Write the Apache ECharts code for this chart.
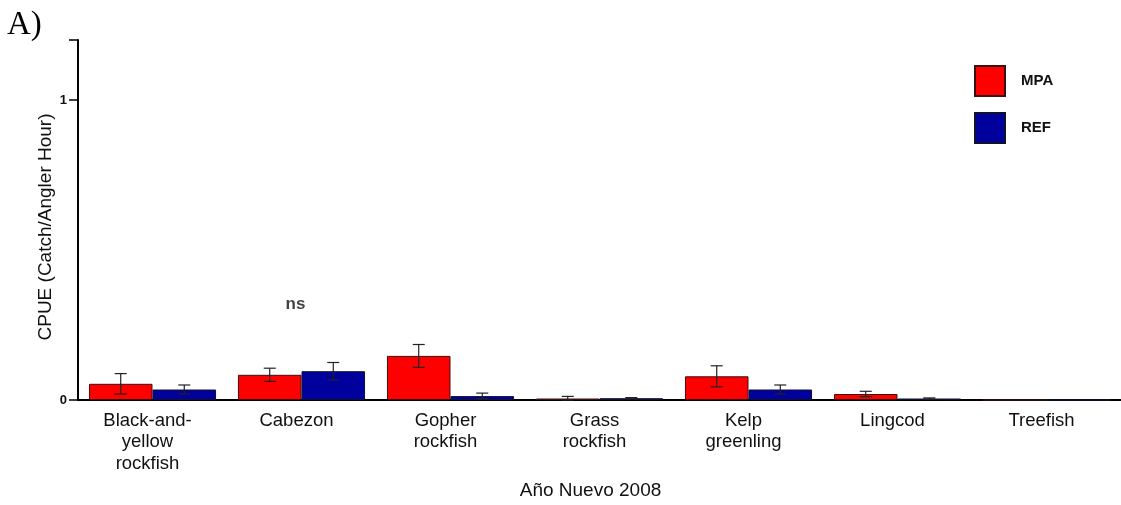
<!DOCTYPE html>
<html>
<head>
<meta charset="utf-8">
<script src="https://cdn.jsdelivr.net/npm/echarts@6/dist/echarts.min.js"></script>
<style>html,body{margin:0;padding:0;background:#fff;overflow:hidden;}#chart{width:1121px;height:505px;}</style>
</head>
<body>
<div id="chart"></div>
<script>
const categories = ['Black-and-\nyellow\nrockfish', 'Cabezon', 'Gopher\nrockfish', 'Grass\nrockfish', 'Kelp\ngreenling', 'Lingcod', 'Treefish'];
const mpaValues = [0.054, 0.084, 0.147, 0.005, 0.079, 0.020, 0];
const mpaSE     = [0.034, 0.022, 0.038, 0.007, 0.035, 0.009, 0];
const refValues = [0.035, 0.096, 0.013, 0.006, 0.035, 0.005, 0];
const refSE     = [0.015, 0.029, 0.010, 0.002, 0.015, 0.002, 0];
const yTickLabels = [0, 1];
const annotation = { category: 1, value: 0.318, text: 'ns' };

const FONT = "'Liberation Sans', Arial, sans-serif";
const CAT_GAP = 0.147;

function errorSeries(values, ses, side) {
  return {
    type: 'custom',
    silent: true,
    z: 5,
    data: values.map((v, i) => [i, v, ses[i]]),
    encode: { x: 0, y: 1 },
    renderItem: function (params, api) {
      const idx = api.value(0), v = api.value(1), se = api.value(2);
      if (!se) return null;
      const band = api.size([1, 0])[0];
      const barW = band * (1 - CAT_GAP) / 2;
      const c = api.coord([idx, v]);
      const cx = c[0] + side * barW / 2;
      const yHi = api.coord([idx, v + se])[1];
      const yLo = api.coord([idx, Math.max(v - se, 0)])[1];
      const cap = 6;
      const st = { stroke: '#222', lineWidth: 1.2 };
      return {
        type: 'group',
        children: [
          { type: 'line', shape: { x1: cx, y1: yHi, x2: cx, y2: yLo }, style: st },
          { type: 'line', shape: { x1: cx - cap, y1: yHi, x2: cx + cap, y2: yHi }, style: st },
          { type: 'line', shape: { x1: cx - cap, y1: yLo, x2: cx + cap, y2: yLo }, style: st }
        ]
      };
    }
  };
}

const chart = echarts.init(document.getElementById('chart'), null, { renderer: 'canvas' });
chart.setOption({
  animation: false,
  backgroundColor: '#fff',
  grid: { left: 78, right: -7, top: 40, bottom: 93, containLabel: false },
  legend: {
    data: ['MPA', 'REF'],
    orient: 'vertical',
    left: 969, top: 60,
    itemWidth: 30, itemHeight: 30, itemGap: 15,
    icon: 'rect',
    textStyle: { fontFamily: FONT, fontSize: 15, fontWeight: 'bold', color: '#111', padding: [0, 0, 0, 11] }
  },
  xAxis: {
    type: 'category',
    data: categories,
    name: 'Año Nuevo 2008',
    nameLocation: 'middle',
    nameGap: 81,
    nameTextStyle: { fontFamily: FONT, fontSize: 19, color: '#111', padding: [0, 18, 0, 0] },
    axisLine: { lineStyle: { color: '#000', width: 2 } },
    axisTick: { show: false },
    axisLabel: { fontFamily: FONT, fontSize: 18.5, color: '#111', lineHeight: 21.5, margin: 10, interval: 0, padding: [0, 10, 0, 0] }
  },
  yAxis: {
    type: 'value',
    min: 0, max: 1.2,
    splitLine: { show: false },
    axisLine: { show: true, lineStyle: { color: '#000', width: 2 } },
    axisTick: { show: true, length: 9, lineStyle: { color: '#000', width: 1.5 }, customValues: [0, 1, 1.2] },
    axisLabel: { fontFamily: FONT, fontSize: 13, fontWeight: 'bold', color: '#111', margin: 11, customValues: yTickLabels }
  },
  graphic: [
    { type: 'text', left: 7, top: 9, style: { text: 'A)', font: "33px 'Liberation Serif', 'Times New Roman', serif", fill: '#000' } },
    { type: 'text', x: 46, y: 227, rotation: Math.PI / 2, style: { text: 'CPUE (Catch/Angler Hour)', font: "19px " + FONT, fill: '#111', align: 'center', verticalAlign: 'middle' } }
  ],
  series: [
    { name: 'MPA', type: 'bar', data: mpaValues, barGap: '0%', barCategoryGap: (CAT_GAP * 100) + '%',
      itemStyle: { color: '#ff0000', borderColor: '#3a1010', borderWidth: 1 } },
    { name: 'REF', type: 'bar', data: refValues, barGap: '0%', barCategoryGap: (CAT_GAP * 100) + '%',
      itemStyle: { color: '#00009c', borderColor: '#101030', borderWidth: 1 } },
    errorSeries(mpaValues, mpaSE, -1),
    errorSeries(refValues, refSE, 1),
    { type: 'scatter', silent: true, symbolSize: 0,
      data: [[annotation.category, annotation.value]],
      label: { show: true, position: 'inside', offset: [-6, 0], formatter: annotation.text, fontFamily: FONT, fontSize: 17, fontWeight: 'bold', color: '#111' } }
  ]
});
</script>
</body>
</html>
